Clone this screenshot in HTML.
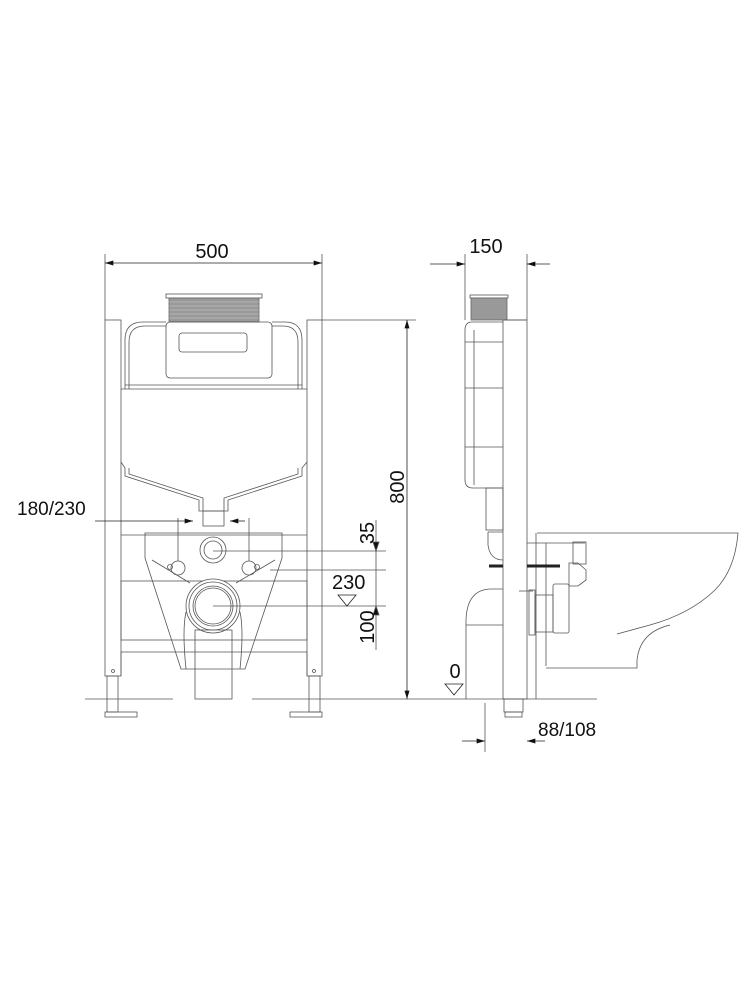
<!DOCTYPE html>
<html><head><meta charset="utf-8"><style>
html,body{margin:0;padding:0;background:#fff;}
svg{display:block;}
text{font-family:"Liberation Sans",sans-serif;fill:#111;}
</style></head><body>
<svg width="750" height="1000" viewBox="0 0 750 1000" xmlns="http://www.w3.org/2000/svg">
<defs>
<marker id="a" viewBox="0 0 10 6" refX="10" refY="3" markerWidth="16" markerHeight="5" orient="auto-start-reverse" markerUnits="userSpaceOnUse"><path d="M0,0L10,3L0,6z" fill="#111"/></marker>
</defs>
<g fill="none" stroke="#555" stroke-width="0.8">
<line x1="105" y1="254" x2="105" y2="320"/><line x1="322" y1="254" x2="322" y2="320"/>
<line x1="105" y1="263" x2="322" y2="263" stroke="#222" marker-start="url(#a)" marker-end="url(#a)"/>
<rect x="105" y="320" width="16" height="356"/>
<rect x="307" y="320" width="15" height="356"/>
<rect x="166" y="294" width="96" height="4"/>
<rect x="169" y="298" width="90" height="24" fill="#999" stroke="#666"/>
<g stroke="#ccc" stroke-width="0.6"><line x1="169" y1="302" x2="259" y2="302"/><line x1="169" y1="306" x2="259" y2="306"/><line x1="169" y1="310" x2="259" y2="310"/><line x1="169" y1="314" x2="259" y2="314"/><line x1="169" y1="318" x2="259" y2="318"/></g>
<path d="M125,389 V340 Q125,322 143,322 H166 M272,322 H285 Q302,322 302,340 V389"/>
<path d="M129,389 V342 Q129,326 145,326 H166 M272,326 H283 Q298,326 298,342 V389"/>
<rect x="166" y="322" width="106" height="56" rx="4"/>
<rect x="179" y="333" width="68" height="19" rx="3"/>
<line x1="121" y1="389" x2="307" y2="389"/><line x1="125" y1="385" x2="302" y2="385"/>
<path d="M121,462 L125,468 V476 L199,500 V511 H228 V500 L302,476 V468 L307,462"/>
<path d="M129,468 V474 L203,498 V511 M224,511 V498 L298,474 V468"/>
<rect x="203" y="511" width="21" height="15"/>
<line x1="121" y1="535" x2="307" y2="535"/>
<path d="M145,533 V558 L181,669 H245 L282,558 V533 Z"/>
<path d="M152,560 L190,583 M275,560 L236,583"/>
<circle cx="213" cy="550" r="13"/><circle cx="213" cy="550" r="9"/>
<circle cx="178" cy="568" r="7"/><circle cx="170" cy="567" r="2.5"/>
<circle cx="249" cy="568" r="7"/><circle cx="257" cy="567" r="2.5"/>
<line x1="178" y1="518" x2="178" y2="561"/><line x1="249" y1="518" x2="249" y2="561"/>
<rect x="121" y="581" width="186" height="59"/>
<circle cx="213" cy="606" r="27" fill="#fff"/><circle cx="213" cy="606" r="24"/><circle cx="213" cy="606" r="20"/><circle cx="213" cy="606" r="18"/>
<path d="M186,612 Q182,630 186,669 M240,612 Q244,630 240,669"/>
<path d="M121,676 V652 H307 V676"/>
<rect x="195" y="630" width="37" height="69"/>
<rect x="107" y="676" width="11" height="36"/><rect x="105" y="712" width="32" height="5"/>
<rect x="309" y="676" width="11" height="36"/><rect x="290" y="712" width="32" height="5"/>
<circle cx="113" cy="671" r="1.5"/><circle cx="314" cy="671" r="1.5"/>
<line x1="85" y1="699" x2="173" y2="699"/><line x1="252" y1="699" x2="597" y2="699"/>
<line x1="322" y1="320" x2="416" y2="320"/>
<line x1="407" y1="320" x2="407" y2="699" stroke="#222" marker-start="url(#a)" marker-end="url(#a)"/>
<line x1="95" y1="521" x2="193" y2="521" stroke="#222" marker-end="url(#a)"/>
<line x1="230" y1="521" x2="245" y2="521" stroke="#222" marker-start="url(#a)"/>
<line x1="213" y1="551" x2="386" y2="551"/><line x1="270" y1="570" x2="386" y2="570"/><line x1="213" y1="606" x2="386" y2="606"/>
<line x1="376" y1="520" x2="376" y2="650"/>
<path d="M373,542 L376,551 L379,542 Z" fill="#111"/><path d="M373,615 L376,606 L379,615 Z" fill="#111"/>
<path d="M338,595 L356,595 L347,606 Z" stroke="#222"/>
<path d="M445,684 L463,684 L454,695 Z" stroke="#222"/>

<line x1="465" y1="254" x2="465" y2="320"/><line x1="527" y1="254" x2="527" y2="320"/>
<line x1="430" y1="264" x2="465" y2="264" stroke="#222" marker-end="url(#a)"/>
<line x1="527" y1="264" x2="550" y2="264" stroke="#222" marker-start="url(#a)"/>
<rect x="503" y="320" width="24" height="379"/>
<rect x="504" y="699" width="19" height="13"/><rect x="505" y="712" width="17" height="5"/>
<rect x="470" y="295" width="38" height="3"/>
<rect x="471" y="298" width="36" height="22" fill="#999" stroke="#666"/>
<line x1="503" y1="320" x2="527" y2="320"/>
<path d="M503,322 H472 Q465,322 465,330 V480 Q465,488 473,488 H503"/>
<line x1="465" y1="342" x2="503" y2="342"/><line x1="465" y1="388" x2="503" y2="388"/><line x1="465" y1="447" x2="503" y2="447"/>
<line x1="474" y1="330" x2="474" y2="485"/>
<rect x="486" y="488" width="17" height="42"/>
<path d="M488,532 V545 Q490,560 503,560 M488,532 H503"/>
<path d="M503,589 H490 Q467,590 466,620 V699 M466,625 H503"/>
<path d="M537,533 H738 Q735,570 715,590 Q690,614 650,625 L617,634"/>
<path d="M546,543 V666 M536,533 V699"/>
<line x1="527" y1="543" x2="585" y2="543"/>
<path d="M670,625 Q640,632 637,660 V668 H546"/>
<rect x="573" y="542" width="13" height="22"/>
<path d="M569,563 H578 L586,570 V580 L578,586 H569 Z"/>
<rect x="529" y="590" width="6" height="45"/><rect x="535" y="595" width="18" height="37"/><rect x="553" y="584" width="16" height="49" rx="2"/>
<line x1="519" y1="591" x2="533" y2="591"/>
<line x1="485" y1="703" x2="485" y2="752"/>
<line x1="462" y1="741" x2="485" y2="741" stroke="#222" marker-end="url(#a)"/>
<line x1="527" y1="741" x2="545" y2="741" stroke="#222" marker-start="url(#a)"/>
</g>
<line x1="489" y1="566" x2="503" y2="566" stroke="#222" stroke-width="3"/>
<line x1="527" y1="566" x2="560" y2="566" stroke="#222" stroke-width="3"/>
<text x="212" y="258" font-size="20" text-anchor="middle">500</text>
<text x="486" y="253" font-size="20" text-anchor="middle">150</text>
<text x="17" y="515" font-size="19">180/230</text>
<text x="332" y="589" font-size="20">230</text>
<text x="455" y="678" font-size="20" text-anchor="middle">0</text>
<text x="538" y="736" font-size="19">88/108</text>
<text transform="translate(404,487) rotate(-90)" font-size="20" text-anchor="middle">800</text>
<text transform="translate(374,533) rotate(-90)" font-size="20" text-anchor="middle">35</text>
<text transform="translate(374,627) rotate(-90)" font-size="20" text-anchor="middle">100</text>
</svg>
</body></html>
